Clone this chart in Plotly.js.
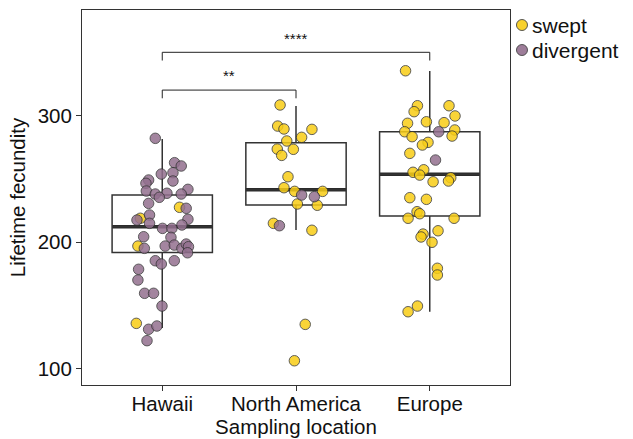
<!DOCTYPE html>
<html><head><meta charset="utf-8">
<script src="https://cdn.plot.ly/plotly-3.0.1.min.js"></script>
<style>body{margin:0;background:#fff}</style></head>
<body><div id="chart" style="width:633px;height:439px"></div>
<script>
const locations = ["Hawaii", "North America", "Europe"];

const hawaiiValues = [282.1,262.8,260.2,253.8,254.9,248.3,249.1,246.5,241.7,240.4,238.0,238.6,235.4,238.0,230.6,227.5,226.7,221.4,218.8,217.4,214.8,218.0,213.5,210.8,210.8,204.2,203.7,196.8,195.0,196.8,197.6,195.0,198.4,196.3,191.5,185.2,182.6,185.2,178.4,169.9,159.4,159.4,149.3,135.6,130.9,133.5,121.9];
const hawaiiJitter = [-0.052,0.092,0.142,-0.007,0.080,0.080,-0.102,-0.122,0.192,-0.119,-0.052,0.035,-0.022,0.142,-0.102,0.129,0.179,-0.095,-0.164,-0.189,-0.095,0.192,0.147,0.002,0.072,-0.139,0.065,-0.182,-0.134,0.022,0.090,0.147,0.179,0.196,0.189,-0.052,-0.007,0.090,-0.177,-0.182,-0.132,-0.065,-0.002,-0.194,-0.102,-0.040,-0.114];
const hawaiiType = "dddddddddddddddsddsddddddddsdddddddddddddddsddd".split("");

const northAmericaValues = [308.5,291.8,289.5,289.2,282.9,280.0,273.6,273.4,268.6,251.7,243.0,240.1,240.1,237.2,235.9,230.1,229.1,214.8,212.9,209.3,134.8,106.0];
const northAmericaJitter = [-0.119,-0.137,-0.090,0.119,0.042,-0.069,-0.140,-0.020,-0.107,-0.060,-0.090,-0.010,0.199,0.042,0.137,0.010,0.159,-0.169,-0.124,0.119,0.069,-0.012];
const northAmericaType = "sssssssssssssddsssdsss".split("");

const europeValues = [335.6,307.9,303.2,307.9,299.8,295.2,294.0,294.5,287.3,287.3,288.7,283.9,283.4,278.9,276.8,270.2,264.9,257.2,255.2,253.0,247.7,250.9,248.3,235.1,233.8,224.0,222.4,218.8,218.8,208.9,206.3,204.0,199.8,179.2,173.9,149.3,144.8];
const europeJitter = [-0.181,-0.092,-0.117,0.144,0.189,-0.025,-0.166,0.107,-0.187,0.067,0.187,0.167,-0.132,-0.013,-0.055,-0.149,0.043,-0.045,-0.125,-0.075,0.025,0.157,0.140,-0.149,-0.025,-0.095,-0.075,-0.162,0.182,0.062,-0.050,-0.065,0.017,0.057,0.057,-0.092,-0.162];
const europeType = "sssssssssdssssssdssssssssssssssssssss".split("");

const boxQ1 = [191.8, 229.3, 220.6];
const boxMedian = [212.1, 241.4, 253.6];
const boxQ3 = [237.2, 278.6, 287.3];
const boxLower = [131.9, 209.5, 144.8];
const boxUpper = [281.6, 307.7, 335.4];

const bracketFrom = [0, 0];
const bracketTo = [1, 2];
const bracketY = [320.3, 350.2];
const bracketLabel = ["**", "****"];

const legendNames = ["swept", "divergent"];
const legendColors = ["#F8CD16", "#93708F"];

const groups = [
  {v: hawaiiValues, j: hawaiiJitter, t: hawaiiType},
  {v: northAmericaValues, j: northAmericaJitter, t: northAmericaType},
  {v: europeValues, j: europeJitter, t: europeType}
];

function pts(code) {
  const x = [], y = [];
  groups.forEach((g, gi) => {
    g.v.forEach((val, k) => {
      if (g.t[k] === code) { x.push(gi + g.j[k]); y.push(val); }
    });
  });
  return {x, y};
}

const pos = locations.map((_, i) => i);
const BW = 0.75;

const boxTrace = {
  type: 'box', x: pos, q1: boxQ1, median: boxMedian, q3: boxQ3,
  lowerfence: boxLower, upperfence: boxUpper,
  width: BW, whiskerwidth: 0, boxpoints: false,
  fillcolor: 'rgba(0,0,0,0)', line: {color: '#333333', width: 1.5},
  showlegend: false, hoverinfo: 'skip'
};

const sw = pts('s'), dv = pts('d');
const mk = (c) => ({size: 10.5, color: c, opacity: 0.85, line: {color: 'rgba(50,50,50,0.9)', width: 1}});
const sweptTrace = {type: 'scatter', mode: 'markers', name: legendNames[0], x: sw.x, y: sw.y, marker: mk(legendColors[0]), showlegend: false};
const divTrace = {type: 'scatter', mode: 'markers', name: legendNames[1], x: dv.x, y: dv.y, marker: mk(legendColors[1]), showlegend: false};

const shapes = [];
pos.forEach(i => {
  shapes.push({type: 'line', xref: 'x', yref: 'y', layer: 'below', x0: i - BW/2, x1: i + BW/2, y0: boxMedian[i], y1: boxMedian[i], line: {color: '#2b2b2b', width: 3.5}});
});
const annotations = [];
bracketY.forEach((by, k) => {
  const drop = 6.5;
  shapes.push({type: 'path', xref: 'x', yref: 'y',
    path: `M ${bracketFrom[k]} ${by - drop} L ${bracketFrom[k]} ${by} L ${bracketTo[k]} ${by} L ${bracketTo[k]} ${by - drop}`,
    line: {color: '#222', width: 1}});
  annotations.push({xref: 'x', yref: 'y', x: (bracketFrom[k] + bracketTo[k]) / 2, y: by + 3, yanchor: 'bottom', text: bracketLabel[k], showarrow: false, font: {size: 15, color: '#111'}});
});

// custom legend (key glyphs + labels) placed in the right margin
const legX = 1.028, legTextX = 1.046, legY0 = 0.96, legStep = 0.0667;
legendNames.forEach((name, k) => {
  const ly = legY0 - k * legStep;
  shapes.push({type: 'circle', xref: 'paper', yref: 'paper', xsizemode: 'pixel', ysizemode: 'pixel',
    xanchor: legX, yanchor: ly, x0: -5.5, x1: 5.5, y0: -5.5, y1: 5.5,
    fillcolor: legendColors[k], opacity: 0.9, line: {color: 'rgba(50,50,50,0.9)', width: 1}});
  annotations.push({xref: 'paper', yref: 'paper', x: legTextX, y: ly, xanchor: 'left', yanchor: 'middle',
    text: name, showarrow: false, font: {size: 21, color: '#111'}});
});

const layout = {
  width: 633, height: 439,
  margin: {l: 82, r: 123, t: 10, b: 54, autoexpand: false},
  paper_bgcolor: '#fff', plot_bgcolor: '#fff',
  font: {family: 'Liberation Sans, Arial, sans-serif', color: '#111'},
  showlegend: false,
  xaxis: {range: [-0.6, 2.6], tickvals: pos, ticktext: locations, showgrid: false, zeroline: false,
    showline: true, mirror: true, linecolor: '#333', linewidth: 1, automargin: false,
    ticks: 'outside', ticklen: 5, tickcolor: '#333', tickfont: {size: 20.5, color: '#111'},
    ticklabelstandoff: -5,
    title: {text: 'Sampling location', font: {size: 20.5, color: '#111'}, standoff: 0}},
  yaxis: {range: [86.8, 383.7], tickvals: [100, 200, 300], showgrid: false, zeroline: false,
    showline: true, mirror: true, linecolor: '#333', linewidth: 1, automargin: false,
    ticks: 'outside', ticklen: 5, tickcolor: '#333', tickfont: {size: 20.5, color: '#111'},
    title: {text: 'Lifetime fecundity', font: {size: 20.5, color: '#111'}, standoff: 6}},
  shapes, annotations
};

Plotly.newPlot('chart', [boxTrace, sweptTrace, divTrace], layout, {displayModeBar: false, staticPlot: true});
</script></body></html>
